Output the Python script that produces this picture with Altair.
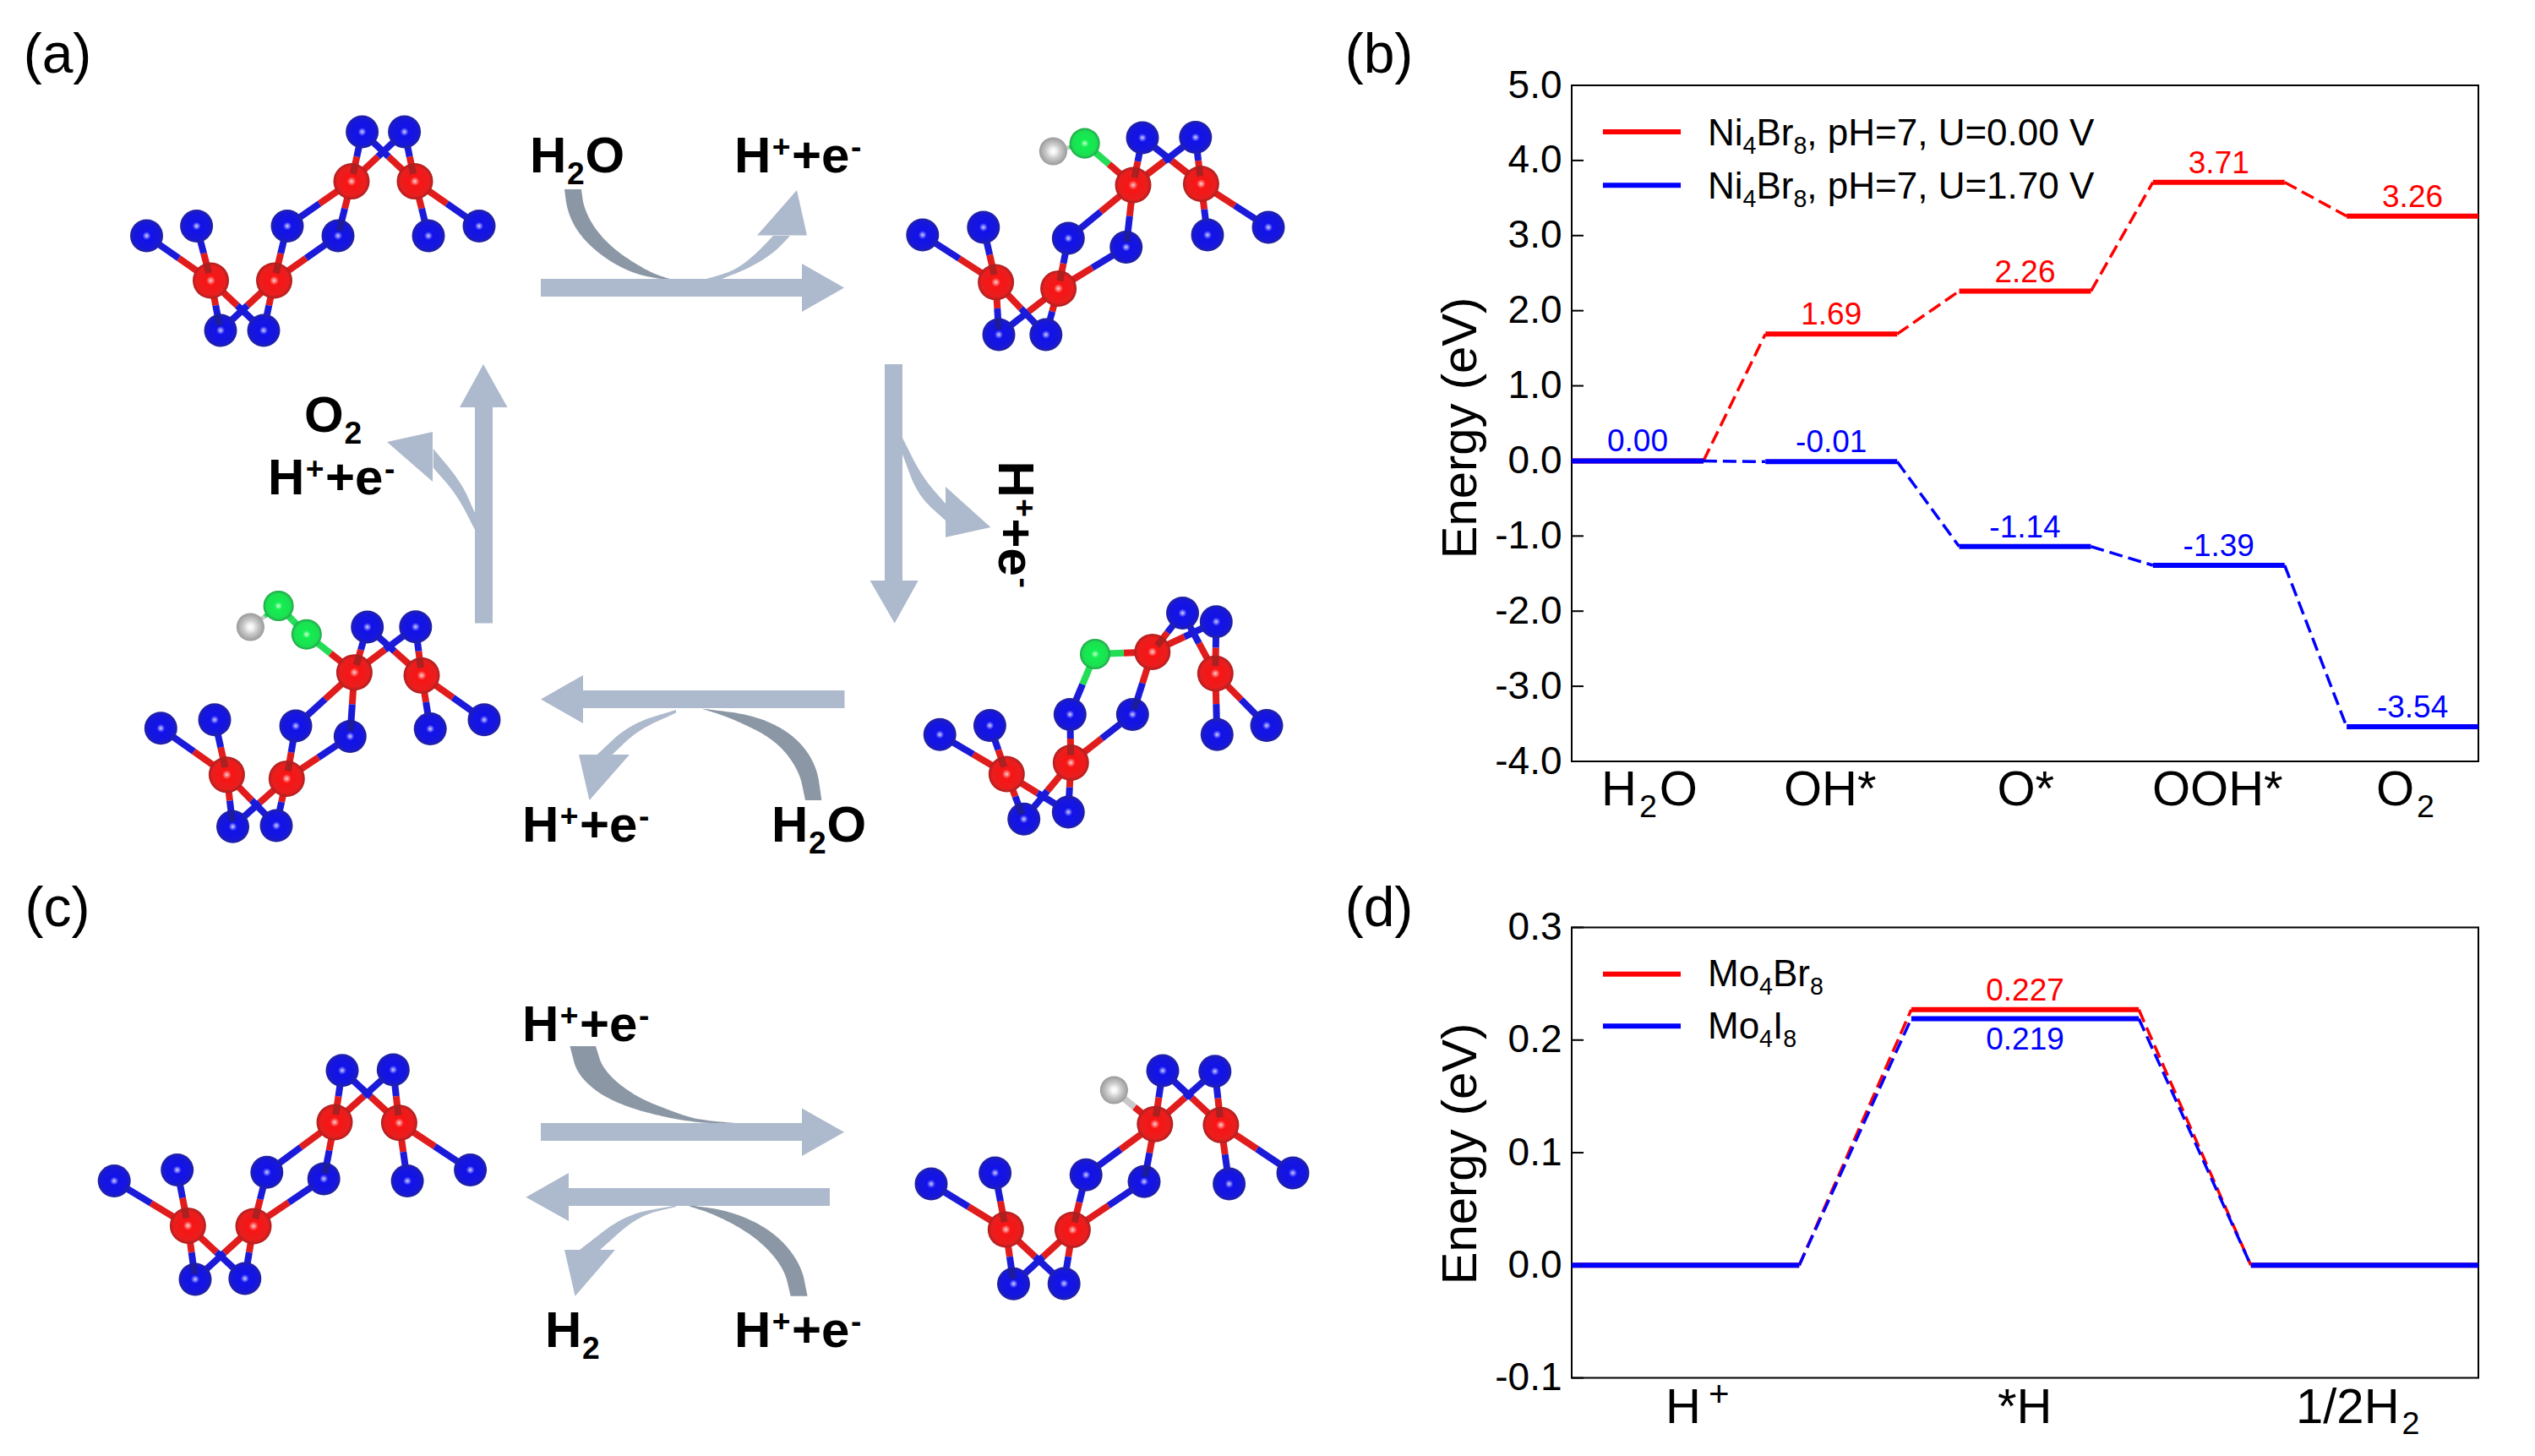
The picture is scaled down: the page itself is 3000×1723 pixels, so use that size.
import altair as alt
import pandas as pd

FONT = "Liberation Sans"
W, H = 2984, 1707

# ---------- panel (b) values
b_red = [0.00, 1.69, 2.26, 3.71, 3.26]
b_blue = [0.00, -0.01, -1.14, -1.39, -3.54]
b_red_txt = ["0.00", "1.69", "2.26", "3.71", "3.26"]
b_blue_txt = ["0.00", "-0.01", "-1.14", "-1.39", "-3.54"]
b_yticks = [-4, -3, -2, -1, 0, 1, 2, 3, 4, 5]

# ---------- panel (d) values
d_red = [0.0, 0.227, 0.0]
d_blue = [0.0, 0.219, 0.0]
d_yticks = [-0.1, 0.0, 0.1, 0.2, 0.3]

# ---------- schematic atoms (picture coordinates)
s1_red = [(249.5, 332), (324.5, 332), (416, 214.6), (491, 214.6)]
s1_blue = [(173.5, 279), (232.6, 267.5), (261, 391), (312, 391), (340, 267.5), (400, 279), (428.6, 156), (478.6, 156), (507, 279), (567, 267.5)]
s2_red = [(1178.6, 334), (1252.6, 341.4), (1341, 219), (1421.4, 217.5)]
s2_blue = [(1091.8, 278), (1163.8, 269), (1182, 396), (1237.8, 396), (1264.3, 282), (1332.7, 292.5), (1352, 163), (1414.8, 162.5), (1429, 278), (1501, 269)]
s2_green = [(1283.7, 169.6)]
s2_white = [(1246.4, 179)]
s3_red = [(1191.3, 916), (1267.3, 902.5), (1363.8, 771.4), (1438.3, 797)]
s3_blue = [(1112.2, 869.3), (1171.4, 858.6), (1211.7, 969.3), (1264.3, 961), (1266.3, 845.4), (1340.3, 845.4), (1399.5, 725.4), (1439.3, 735.7), (1440.3, 869.3), (1499, 858.6)]
s3_green = [(1296, 774)]
s4_red = [(268.4, 916.8), (339.3, 921.4), (419.4, 795.7), (499, 799.3)]
s4_blue = [(190.3, 861.8), (254, 851.8), (275.5, 978.2), (327, 977), (350, 859), (414.3, 871.4), (434.7, 742), (491.8, 741.8), (509.2, 862.5), (573, 851.8)]
s4_green = [(362.8, 750.7), (329.6, 717)]
s4_white = [(296.4, 742)]
s5_red = [(222.4, 1450.4), (300, 1451), (396, 1328), (472.4, 1328.7)]
s5_blue = [(135.2, 1397.5), (209.7, 1384.5), (231, 1513.9), (289.8, 1513), (315.8, 1387.2), (383.2, 1394.9), (405, 1266.7), (465.3, 1265.9), (482.1, 1397.5), (556.6, 1384.5)]
s6_red = [(1190.3, 1455), (1269.4, 1455.3), (1366.8, 1330.2), (1444.9, 1331.3)]
s6_blue = [(1102, 1401), (1177.6, 1388), (1199.5, 1519.2), (1259.2, 1518.9), (1285.2, 1390.3), (1354, 1398.3), (1376, 1267), (1437.8, 1267.8), (1454.6, 1401), (1530, 1388)]
s6_white = [(1318.4, 1290)]

bond_pairs = [(0, 0), (0, 1), (0, 2), (0, 3), (1, 4), (1, 5), (1, 2), (1, 3), (2, 4), (2, 5), (2, 6), (2, 7), (3, 6), (3, 7), (3, 8), (3, 9)]

# ---------- schematic arrows (picture coordinates)
LIGHT, DARK = "#adb9cc", "#8c97a5"
# curved bands: colour, one edge, other edge
curved_shapes = [
    (DARK, [(668, 224), (671.4, 250), (683.7, 275), (704, 296.4), (729.6, 314), (755, 325), (780.6, 330), (800, 332)],
     [(688, 224), (691, 246), (704, 271), (724.5, 293), (750, 311), (775.5, 325), (800, 332)]),
    (DARK, [(972.4, 947), (966, 903.6), (938, 868), (892, 846), (830.6, 838.6)],
     [(953, 947), (945.4, 910.7), (917, 875), (866, 850), (830.6, 838.6)]),
    (DARK, [(674.5, 1238), (683.7, 1274), (724.5, 1305), (800, 1326), (866, 1331), (897, 1331)],
     [(705, 1238), (714, 1266.7), (750, 1297), (800, 1317), (830, 1326), (897, 1331)]),
    (DARK, [(955.6, 1533.8), (948, 1496), (917, 1458), (866, 1433), (810, 1425.5)],
     [(935.7, 1533.8), (927.6, 1500), (897, 1465.7), (851, 1439), (810, 1425.5)]),
    (LIGHT, [(836, 330), (870, 320), (895, 300), (915, 279)], [(854, 330), (885, 318), (915, 300), (935, 279)]),
    (LIGHT, [(1068, 518), (1091, 564), (1119, 596)], [(1068, 537.5), (1086, 586), (1119, 616)]),
    (LIGHT, [(800, 840), (745, 857), (706.6, 893)], [(800, 843.6), (755, 864), (724.5, 893)]),
    (LIGHT, [(512.8, 531), (546, 571), (562, 607)], [(512.8, 553.6), (541, 586), (562, 627)]),
    (LIGHT, [(800, 1426.6), (740, 1437), (686, 1479)], [(800, 1428), (755, 1439), (710, 1479)]),
]
straight_shapes = [
    (LIGHT, [(640, 330), (949, 330), (949, 351), (640, 351)]),
    (LIGHT, [(949, 312), (999, 340.5), (949, 369)]),
    (LIGHT, [(896, 278.6), (943, 225), (955, 278.6)]),
    (LIGHT, [(1047, 431), (1068, 431), (1068, 687), (1047, 687)]),
    (LIGHT, [(1029.6, 687), (1086.7, 687), (1058.7, 737.5)]),
    (LIGHT, [(1119, 576), (1172.4, 624), (1119, 635.7)]),
    (LIGHT, [(690, 817), (999.5, 817), (999.5, 838), (690, 838)]),
    (LIGHT, [(640, 827.5), (690, 799), (690, 856)]),
    (LIGHT, [(685, 893), (745, 893), (697.5, 947)]),
    (LIGHT, [(562, 482), (583, 482), (583, 737.5), (562, 737.5)]),
    (LIGHT, [(544, 482), (572, 431), (600.5, 482)]),
    (LIGHT, [(458, 523), (512, 511), (512, 570)]),
    (LIGHT, [(640, 1329), (949, 1329), (949, 1350), (640, 1350)]),
    (LIGHT, [(949, 1311.4), (999, 1339.8), (949, 1368)]),
    (LIGHT, [(673, 1406), (982, 1406), (982, 1427), (673, 1427)]),
    (LIGHT, [(622.4, 1416.7), (673, 1388), (673, 1445)]),
    (LIGHT, [(668, 1479), (728, 1479), (680.6, 1533.8)]),
]

# Text is written as runs: (text, kind), kind n = normal, s = subscript, u = superscript
ION = [("H", "n"), ("+", "u"), ("+", "n"), ("e", "n"), ("-", "u")]
WATER = [("H", "n"), ("2", "s"), ("O", "n")]
bold_labels = [
    (WATER, 627, 204), (ION, 869, 204), ([("O", "n"), ("2", "s")], 360, 511), (ION, 317, 585),
    (ION, 618, 996), (WATER, 913, 996), (ION, 618, 1232), ([("H", "n"), ("2", "s")], 645, 1594), (ION, 869, 1594),
]
rot_ion = (ION, 1181.6, 545.5)
panel_labels = [("(a)", 68, 86), ("(b)", 1632, 86), ("(c)", 68, 1096), ("(d)", 1632, 1096)]
x_labels = [
    (WATER, 1895, 953.4), ([("OH*", "n")], 2111, 953.4), ([("O*", "n")], 2363.5, 953.4), ([("OOH*", "n")], 2547, 953.4),
    ([("O", "n"), ("2", "s")], 2812, 953.4),
    ([("H", "n")], 1971, 1683.7), ([("*H", "n")], 2364, 1683.7), ([("1/2H", "n"), ("2", "s")], 2717, 1683.7),
]
plus_label = [{"t": "+", "x": 2022, "y": 1664, "fs": 42}]
NIBR = [("Ni", "n"), ("4", "s"), ("Br", "n"), ("8", "s")]
legend_labels = [
    (NIBR + [(", pH=7, U=0.00 V", "n")], 2021, 172),
    (NIBR + [(", pH=7, U=1.70 V", "n")], 2021, 235),
    ([("Mo", "n"), ("4", "s"), ("Br", "n"), ("8", "s")], 2021, 1167),
    ([("Mo", "n"), ("4", "s"), ("I", "n"), ("8", "s")], 2021, 1228.6),
]

EM = {"H": .722, "O": .778, "N": .722, "i": .222, "B": .667, "r": .333, "M": .833, "o": .556, "I": .278, ",": .278, " ": .278,
      "p": .556, "=": .584, "U": .722, ".": .278, "V": .667, "/": .278, "*": .389, "+": .584, "e": .556, "-": .333}


def em(text):
    return sum(EM.get(ch, .556) for ch in text)


def runs(parts, x, y, size, ratio=0.62, gap=0, vertical=False):
    rows = []
    pos = x if not vertical else y
    for text, kind in parts:
        fs = size if kind == "n" else size * ratio
        shift = {"n": 0, "s": 0.235 * size, "u": -0.3 * size}[kind]
        if kind != "n":
            pos += gap
        if vertical:
            rows.append({"t": text, "x": x - shift, "y": pos, "fs": fs})
        else:
            rows.append({"t": text, "x": pos, "y": y + shift, "fs": fs})
        pos += em(text) * fs + (gap if kind != "n" else 0)
    return rows


def smooth(chain, rounds=3):
    """Corner-cutting of a hand-read edge, ends kept."""
    pts = list(chain)
    for _ in range(rounds):
        out = [pts[0]]
        for (x0, y0), (x1, y1) in zip(pts, pts[1:]):
            out.append((0.75 * x0 + 0.25 * x1, 0.75 * y0 + 0.25 * y1))
            out.append((0.25 * x0 + 0.75 * x1, 0.25 * y0 + 0.75 * y1))
        out.append(pts[-1])
        pts = out
    return pts


def area_rows(idx, color, pts):
    xs = sorted({p[0] for p in pts})
    rows = []
    n = len(pts)
    for x in xs:
        ys = []
        for k in range(n):
            (x0, y0), (x1, y1) = pts[k], pts[(k + 1) % n]
            if x0 == x1:
                if x == x0:
                    ys += [y0, y1]
            elif min(x0, x1) <= x <= max(x0, x1):
                ys.append(y0 + (y1 - y0) * (x - x0) / (x1 - x0))
        rows.append({"s": f"p{idx}", "x": x, "y": min(ys), "y2": max(ys), "c": color})
    return rows


def seg(p, q, c1, c2, rows):
    m = ((p[0] + q[0]) / 2, (p[1] + q[1]) / 2)
    rows.append({"x": p[0], "y": p[1], "x2": m[0], "y2": m[1], "c": c1})
    rows.append({"x": m[0], "y": m[1], "x2": q[0], "y2": q[1], "c": c2})


def stub(atom, other, near, far, color, rows):
    dx, dy = other[0] - atom[0], other[1] - atom[1]
    d = (dx * dx + dy * dy) ** 0.5
    rows.append({"x": atom[0] + dx * near / d, "y": atom[1] + dy * near / d, "x2": atom[0] + dx * far / d, "y2": atom[1] + dy * far / d, "c": color})


BR, BB, BG, BW = "#e01c1c", "#1a1ad8", "#22dd55", "#c8c8c8"
bond_rows, thin_rows, stub_rows = [], [], []
structures = [
    (s1_red, s1_blue, bond_pairs),
    (s2_red, s2_blue, bond_pairs),
    (s3_red, s3_blue, [b for b in bond_pairs if b != (2, 4)]),
    (s4_red, s4_blue, bond_pairs),
    (s5_red, s5_blue, bond_pairs),
    (s6_red, s6_blue, bond_pairs),
]
for reds, blues, pairs in structures:
    for r, b in pairs:
        seg(reds[r], blues[b], BR, BB, bond_rows)
    for r, b in ((0, 1), (1, 4), (2, 6), (3, 7)):
        stub(reds[r], blues[b], 9, 21, "#ab2020", stub_rows)
    for r, b in ((0, 2), (2, 5)):
        stub(blues[b], reds[r], 6, 19, "#1c1c9c", stub_rows)
seg(s2_red[2], s2_green[0], BR, BG, bond_rows)
seg(s3_red[2], s3_green[0], BR, BG, bond_rows)
seg(s3_blue[4], s3_green[0], BB, BG, bond_rows)
seg(s4_red[2], s4_green[0], BR, BG, bond_rows)
seg(s4_green[0], s4_green[1], BG, BG, bond_rows)
seg(s6_red[2], s6_white[0], BR, BW, bond_rows)
seg(s2_green[0], s2_white[0], BG, BW, thin_rows)
seg(s4_green[1], s4_white[0], BG, BW, thin_rows)

# ---------- scales
left_x = alt.Scale(domain=[8, 2992], range=[0, W], nice=False, zero=False)
left_y = alt.Scale(domain=[8, 1715], range=[0, H], nice=False, zero=False)
LX = alt.X("x:Q", scale=left_x, axis=None)
LY = alt.Y("y:Q", scale=left_y, axis=None)


def grad(stops):
    return alt.RadialGradient(
        gradient="radial", x1=0.5, y1=0.5, x2=0.5, y2=0.5, r1=0, r2=0.5,
        stops=[alt.GradientStop(offset=o, color=c) for o, c in stops],
    )


G_RED = grad([(0, "#ffd8d8"), (0.1, "#ff8080"), (0.25, "#f81414"), (0.8, "#ea1e1e"), (1, "#a82020")])
G_BLUE = grad([(0, "#d8d8ff"), (0.1, "#8080ff"), (0.25, "#1212ea"), (0.8, "#1616dc"), (1, "#242498")])
G_GREEN = grad([(0, "#d8ffe0"), (0.1, "#80ff9c"), (0.25, "#12ee50"), (0.8, "#1ce052"), (1, "#22a048")])
G_WHITE = grad([(0, "#ffffff"), (0.2, "#f4f4f4"), (0.5, "#cccccc"), (1, "#9a9a9a")])


def points(pts, size, fill):
    df = pd.DataFrame(pts, columns=["x", "y"])
    return alt.Chart(df).mark_circle(size=size, color=fill, opacity=1).encode(x=LX, y=LY)


all_red = s1_red + s2_red + s3_red + s4_red + s5_red + s6_red
all_blue = s1_blue + s2_blue + s3_blue + s4_blue + s5_blue + s6_blue
all_green = s2_green + s3_green + s4_green
all_white = s2_white + s4_white + s6_white


def area_layer(i, c, pts):
    return alt.Chart(pd.DataFrame(area_rows(i, c, pts))).mark_area(color=c, opacity=1, orient="vertical", line=False, interpolate="linear").encode(
        x=LX, y=LY, y2=alt.Y2("y2:Q")
    )


area_layers = [area_layer(i, c, smooth(a) + smooth(b)[::-1]) for i, (c, a, b) in enumerate(curved_shapes)]
area_layers += [area_layer(i + 100, c, p) for i, (c, p) in enumerate(straight_shapes)]


def rules(rows, width):
    return alt.Chart(pd.DataFrame(rows)).mark_rule(strokeWidth=width).encode(
        x=LX, y=LY, x2=alt.X2("x2:Q"), y2=alt.Y2("y2:Q"), color=alt.Color("c:N", scale=None)
    )


def run_layer(rows, weight="normal", **kw):
    return alt.Chart(pd.DataFrame(rows)).mark_text(font=FONT, fontWeight=weight, align="left", baseline="alphabetic", color="black", **kw).encode(
        x=LX, y=LY, text="t:N", size=alt.Size("fs:Q", scale=None)
    )


bold_rows = [r for parts, x, y in bold_labels for r in runs(parts, x, y, 60, 0.62, gap=1.5 if parts is ION else 0.7)]
rot_rows = runs(rot_ion[0], rot_ion[1], rot_ion[2], 60, 0.62, gap=1.5, vertical=True)
axis_rows = [r for parts, x, y in x_labels for r in runs(parts, x, y, 58, 0.65, gap=3)] + plus_label
legend_rows = [r for parts, x, y in legend_labels for r in runs(parts, x, y, 44, 0.65)]
panel_df = pd.DataFrame(panel_labels, columns=["t", "x", "y"])

left = alt.layer(
    *area_layers,
    rules(bond_rows, 8),
    rules(thin_rows, 5),
    points(all_blue, 1521, G_BLUE),
    points(all_red, 1849, G_RED),
    points(all_green, 1300, G_GREEN),
    points(all_white, 1100, G_WHITE),
    rules(stub_rows, 8),
    run_layer(bold_rows, "bold"),
    run_layer(rot_rows, "bold", angle=90),
    run_layer(axis_rows),
    run_layer(legend_rows),
    alt.Chart(panel_df).mark_text(font=FONT, fontSize=66, align="center", baseline="alphabetic", color="black").encode(x=LX, y=LY, text="t:N"),
)

HYPHEN = "replace(datum.label,'\u2212','-')"
AXIS_COMMON = dict(
    format=".1f", labelExpr=HYPHEN, title="Energy (eV)", grid=False, domain=False, ticks=False,
    labelFont=FONT, labelFontSize=46, labelColor="black", labelFlush=False, labelOverlap=False, labelBound=False,
    titleFont=FONT, titleFontSize=58, titleFontWeight="normal", titleColor="black", titleAngle=270,
    titleBaseline="middle", titleAlign="center", titleX=-131,
)


def energy_panel(xdom, yrange, ydom, level, yticks, reds, blues, rtxt, btxt, rdy, bdy, legx, legy, yax, tick_len):
    sx = alt.Scale(domain=xdom, range=[1852, 2925], nice=False, zero=False)
    sy = alt.Scale(domain=ydom, range=yrange, nice=False, zero=False)
    X = alt.X("x:Q", scale=sx, axis=None)
    Y = alt.Y("y:Q", scale=sy, axis=yax)
    frame = alt.Chart(pd.DataFrame([{"x": xdom[0], "x2": xdom[1], "y": ydom[0], "y2": ydom[1]}])).mark_rect(
        fill=None, fillOpacity=0, stroke="black", strokeWidth=2
    ).encode(x=X, x2="x2:Q", y=Y, y2="y2:Q")
    ticks = alt.Chart(pd.DataFrame({"y": yticks, "x": xdom[0], "x2": xdom[0] + tick_len})).mark_rule(stroke="black", strokeWidth=2).encode(
        x=X, x2="x2:Q", y=Y
    )
    n = len(reds)
    lvl, dash, txt = [], [], []
    for color, vals, tx, dy in (("#ff0000", reds, rtxt, rdy), ("#0000ff", blues, btxt, bdy)):
        for i in range(n):
            lvl.append({"x": i, "x2": i + level, "y": vals[i], "c": color})
            if tx[i]:
                txt.append({"x": i + level / 2, "y": vals[i], "t": tx[i], "c": color, "dy": dy})
            if i < n - 1:
                dash.append({"x": i + level, "x2": i + 1, "y": vals[i], "y2": vals[i + 1], "c": color})
    dashes = alt.Chart(pd.DataFrame(dash)).mark_rule(strokeWidth=3.5, strokeDash=[16, 7]).encode(
        x=X, x2="x2:Q", y=Y, y2="y2:Q", color=alt.Color("c:N", scale=None)
    )
    levels = alt.Chart(pd.DataFrame(lvl)).mark_rule(strokeWidth=6).encode(
        x=X, x2="x2:Q", y=Y, color=alt.Color("c:N", scale=None)
    )
    layers = [frame, ticks, dashes, levels]
    for dy in sorted({t["dy"] for t in txt}):
        layers.append(
            alt.Chart(pd.DataFrame([t for t in txt if t["dy"] == dy])).mark_text(font=FONT, fontSize=37, align="center", baseline="alphabetic", dy=dy).encode(
                x=X, y=Y, text="t:N", color=alt.Color("c:N", scale=None)
            )
        )
    leg_line = alt.Chart(pd.DataFrame({"x": legx[0], "x2": legx[1], "y": legy, "c": ["#ff0000", "#0000ff"]})).mark_rule(strokeWidth=6).encode(
        x=X, x2="x2:Q", y=Y, color=alt.Color("c:N", scale=None)
    )
    layers.append(leg_line)
    return alt.layer(*layers)


b_axis = alt.Axis(values=b_yticks, offset=-1852, labelPadding=12, titleY=498, **AXIS_COMMON)
# Vega stacks axes that share a side, so the second one sits on the right side and draws its labels back over to the left
d_axis = alt.Axis(values=d_yticks, orient="right", offset=-(W - 1852), labelPadding=-12, labelAlign="right", titleY=1357, **AXIS_COMMON)

panel_b = energy_panel([0, 4.68], [893, 93], [-4, 5], 0.68, b_yticks, b_red, b_blue,
                       [""] + b_red_txt[1:], b_blue_txt, -11, -11, (0.161, 0.563), [4.38, 3.67], b_axis, 0.061)
panel_d = energy_panel([0, 2.67], [1622.6, 1089.5], [-0.1, 0.3], 0.67, d_yticks, d_red, d_blue,
                       ["", "0.227", ""], ["", "0.219", ""], -11, 37, (0.092, 0.321), [0.2585, 0.2124], d_axis, 0.035)

chart = alt.layer(left, panel_b, panel_d).resolve_scale(x="independent", y="independent").properties(
    width=W, height=H, autosize=alt.AutoSizeParams(type="none"), padding=0, background="white"
).configure_view(stroke=None)

chart.save("out.html", embed_options={"renderer": "svg", "actions": False})
